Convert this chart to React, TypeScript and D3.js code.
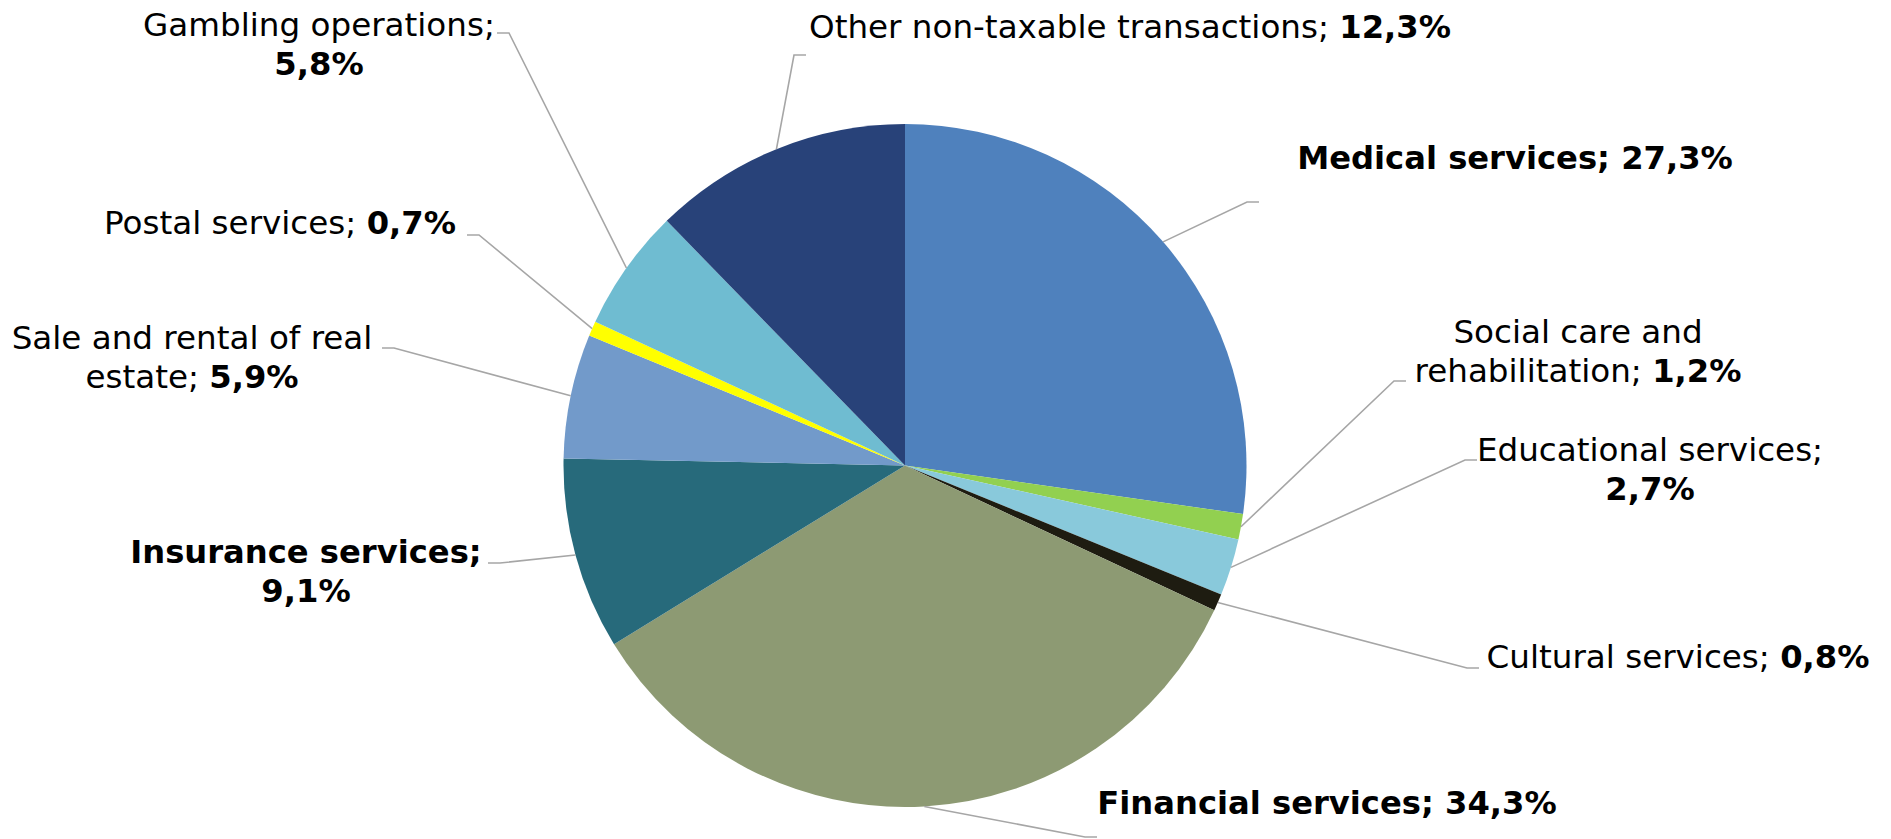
import React from "react";
import * as d3 from "d3";

const categories = [
  "Medical services",
  "Social care and rehabilitation",
  "Educational services",
  "Cultural services",
  "Financial services",
  "Insurance services",
  "Sale and rental of real estate",
  "Postal services",
  "Gambling operations",
  "Other non-taxable transactions",
];
const shares = [27.3, 1.2, 2.7, 0.8, 34.3, 9.1, 5.9, 0.7, 5.8, 12.3];
const valueLabels = ["27,3%", "1,2%", "2,7%", "0,8%", "34,3%", "9,1%", "5,9%", "0,7%", "5,8%", "12,3%"];
const colors = ["#4F81BD", "#92D050", "#89C9DB", "#1E1C11", "#8D9A73", "#276A7B", "#729ACA", "#FFFF00", "#6FBCD1", "#284279"];

// label text lines: each line is a list of [text, bold]
type Seg = [string, boolean];
const labelLines: Seg[][][] = [
  [[["Medical services; 27,3%", true]]],
  [[["Social care and", false]], [["rehabilitation; ", false], ["1,2%", true]]],
  [[["Educational services;", false]], [["2,7%", true]]],
  [[["Cultural services; ", false], ["0,8%", true]]],
  [[["Financial services; 34,3%", true]]],
  [[["Insurance services;", true]], [["9,1%", true]]],
  [[["Sale and rental of real", false]], [["estate; ", false], ["5,9%", true]]],
  [[["Postal services; ", false], ["0,7%", true]]],
  [[["Gambling operations;", false]], [["5,8%", true]]],
  [[["Other non-taxable transactions; ", false], ["12,3%", true]]],
];

// layout (pixels): label center x, first-line center y, leader elbow point, tick direction
const labelPos = [
  [1515, 158], [1578, 332], [1650, 450], [1678, 657], [1327, 803],
  [306, 552], [192, 338], [280, 223], [319, 25], [1130, 27],
];
const elbows = [
  [1247, 202, 1], [1394, 381, 1], [1465, 460, 1], [1467, 668, 1], [1085, 837, 1],
  [500, 563, -1], [394, 348, -1], [479, 235, -1], [509, 33, -1], [794, 55, 1],
];

const W = 1891, H = 839;
const CX = 905, CY = 465.5, R = 341.5;
const FONT = "Verdana, 'DejaVu Sans', sans-serif";
const FS = 32.6;
const LH = 39;

export default function App() {
  const data = categories.map((c, i) => ({ c, v: shares[i], i }));
  const pie = d3.pie<any>().value((d) => d.v).sort(null).startAngle(0).endAngle(2 * Math.PI);
  const arcs = pie(data);
  const arc = d3.arc<any>().innerRadius(0).outerRadius(R);
  const edge = d3.arc<any>().innerRadius(R).outerRadius(R);

  return (
    <svg width={W} height={H} style={{ position: "absolute", left: 0, top: 0, background: "#fff" }}>
      <g transform={`translate(${CX},${CY})`}>
        {arcs.map((a, i) => (
          <path key={i} d={arc(a) as string} fill={colors[i]} />
        ))}
      </g>
      {arcs.map((a, i) => {
        const [px, py] = edge.centroid(a);
        const [ex, ey, dir] = elbows[i];
        return (
          <polyline
            key={"l" + i}
            points={`${CX + px},${CY + py} ${ex},${ey} ${ex + dir * 12},${ey}`}
            fill="none"
            stroke="#A6A6A6"
            strokeWidth={1.6}
          />
        );
      })}
      {labelLines.map((lines, i) => (
        <text key={"t" + i} fontFamily={FONT} fontSize={FS} fill="#000" textAnchor="middle">
          {lines.map((segs, j) => (
            <tspan key={j} x={labelPos[i][0]} y={labelPos[i][1] + j * LH} dominantBaseline="central">
              {segs.map((s, k) => (
                <tspan key={k} fontWeight={s[1] ? "bold" : "normal"} fontSize={s[1] ? FS - 0.4 : FS}>{s[0]}</tspan>
              ))}
            </tspan>
          ))}
        </text>
      ))}
    </svg>
  );
}
